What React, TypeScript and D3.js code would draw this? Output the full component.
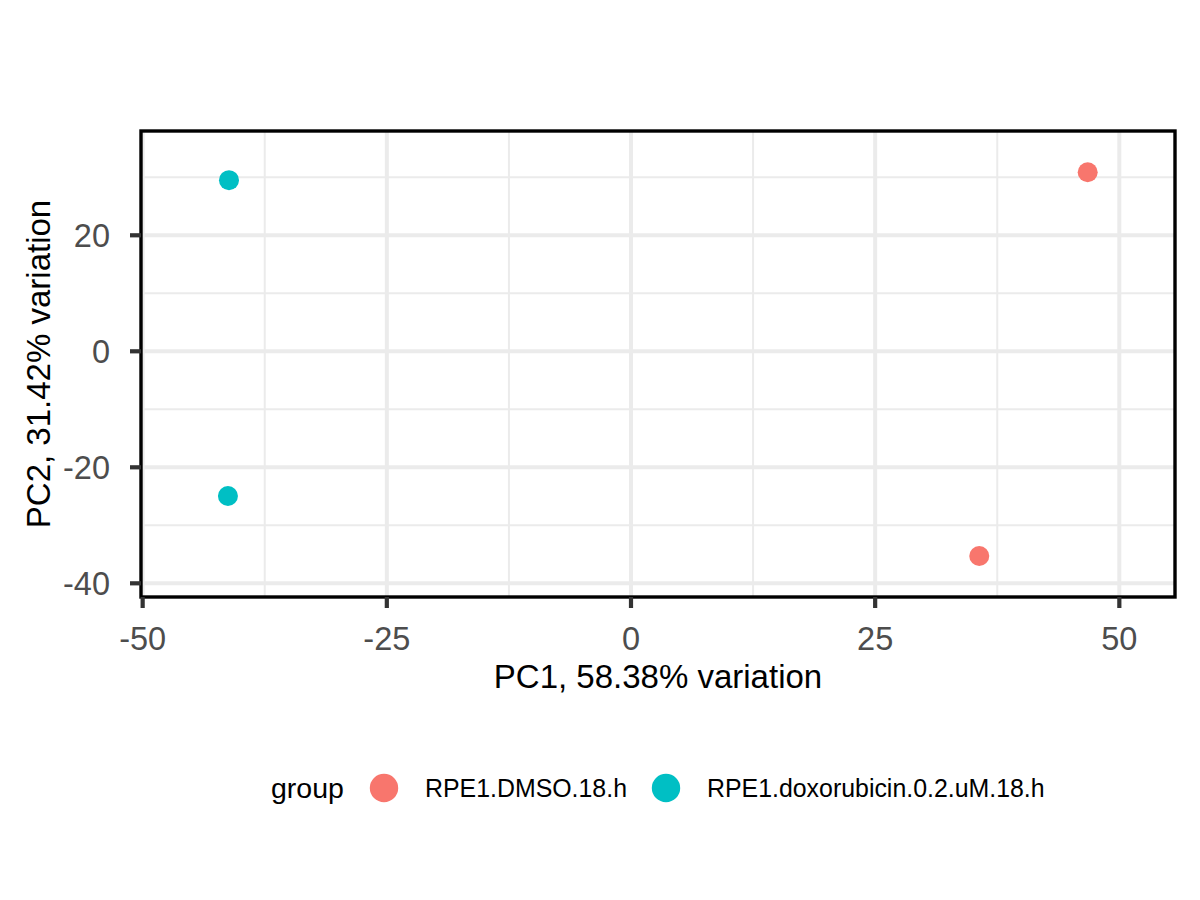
import React from "react";
import * as d3 from "d3";

const groups = ["RPE1.DMSO.18.h", "RPE1.doxorubicin.0.2.uM.18.h"];
const groupColors = ["#F8766D", "#00BFC4"];
const pointGroup = [0, 0, 1, 1];
const pc1 = [46.76, 35.66, -41.16, -41.27];
const pc2 = [30.86, -35.29, 29.5, -24.95];
const xTicks = [-50, -25, 0, 25, 50];
const yTicks = [-40, -20, 0, 20];
const xMinor = [-37.5, -12.5, 12.5, 37.5];
const yMinor = [-30, -10, 10, 30];
const xTitle = "PC1, 58.38% variation";
const yTitle = "PC2, 31.42% variation";
const legendTitle = "group";

const W = 1200;
const H = 900;
const panel = { left: 141, right: 1175, top: 131, bottom: 597 };

export default function App() {
  const x = d3.scaleLinear().domain([-50.17, 55.7]).range([panel.left, panel.right]);
  const y = d3.scaleLinear().domain([-42.36, 37.98]).range([panel.bottom, panel.top]);
  const font = "'Liberation Sans', Arial, Helvetica, sans-serif";
  const grid = "#EBEBEB";
  const legendY = 788;
  const legendKeys = [384, 666];
  const legendLabels = [425, 707];

  return (
    <svg width={W} height={H} style={{ position: "absolute", left: 0, top: 0, background: "#fff" }} fontFamily={font}>
      <rect x={0} y={0} width={W} height={H} fill="#fff" />
      {/* minor grid */}
      {xMinor.map((v) => (
        <line key={"xm" + v} x1={x(v)} x2={x(v)} y1={panel.top} y2={panel.bottom} stroke={grid} strokeWidth={2} />
      ))}
      {yMinor.map((v) => (
        <line key={"ym" + v} x1={panel.left} x2={panel.right} y1={y(v)} y2={y(v)} stroke={grid} strokeWidth={2} />
      ))}
      {/* major grid */}
      {xTicks.map((v) => (
        <line key={"xg" + v} x1={x(v)} x2={x(v)} y1={panel.top} y2={panel.bottom} stroke={grid} strokeWidth={4} />
      ))}
      {yTicks.map((v) => (
        <line key={"yg" + v} x1={panel.left} x2={panel.right} y1={y(v)} y2={y(v)} stroke={grid} strokeWidth={4} />
      ))}
      {/* points */}
      {pc1.map((v, i) => (
        <circle key={"p" + i} cx={x(v)} cy={y(pc2[i])} r={10} fill={groupColors[pointGroup[i]]} />
      ))}
      {/* border */}
      <rect
        x={panel.left}
        y={panel.top}
        width={panel.right - panel.left}
        height={panel.bottom - panel.top}
        fill="none"
        stroke="#000"
        strokeWidth={3.4}
      />
      {/* x ticks */}
      {xTicks.map((v) => (
        <g key={"xt" + v}>
          <line x1={x(v)} x2={x(v)} y1={panel.bottom} y2={panel.bottom + 11} stroke="#333" strokeWidth={4.2} />
          <text x={x(v)} y={649.5} textAnchor="middle" fontSize={32.5} fill="#4D4D4D">
            {v}
          </text>
        </g>
      ))}
      {/* y ticks */}
      {yTicks.map((v) => (
        <g key={"yt" + v}>
          <line x1={panel.left - 11} x2={panel.left} y1={y(v)} y2={y(v)} stroke="#333" strokeWidth={4.2} />
          <text x={110} y={y(v) + 11.6} textAnchor="end" fontSize={32.5} fill="#4D4D4D">
            {v}
          </text>
        </g>
      ))}
      {/* axis titles */}
      <text x={(panel.left + panel.right) / 2} y={688} textAnchor="middle" fontSize={33} fill="#000">
        {xTitle}
      </text>
      <text
        transform={`translate(50,${(panel.top + panel.bottom) / 2}) rotate(-90)`}
        textAnchor="middle"
        fontSize={33}
        fill="#000"
      >
        {yTitle}
      </text>
      {/* legend */}
      <text x={271} y={798} fontSize={28.5} fill="#000">
        {legendTitle}
      </text>
      {groups.map((g, i) => (
        <g key={"lg" + i}>
          <circle cx={legendKeys[i]} cy={legendY} r={14.2} fill={groupColors[i]} />
          <text x={legendLabels[i]} y={797} fontSize={24.9} fill="#000">
            {g}
          </text>
        </g>
      ))}
    </svg>
  );
}
